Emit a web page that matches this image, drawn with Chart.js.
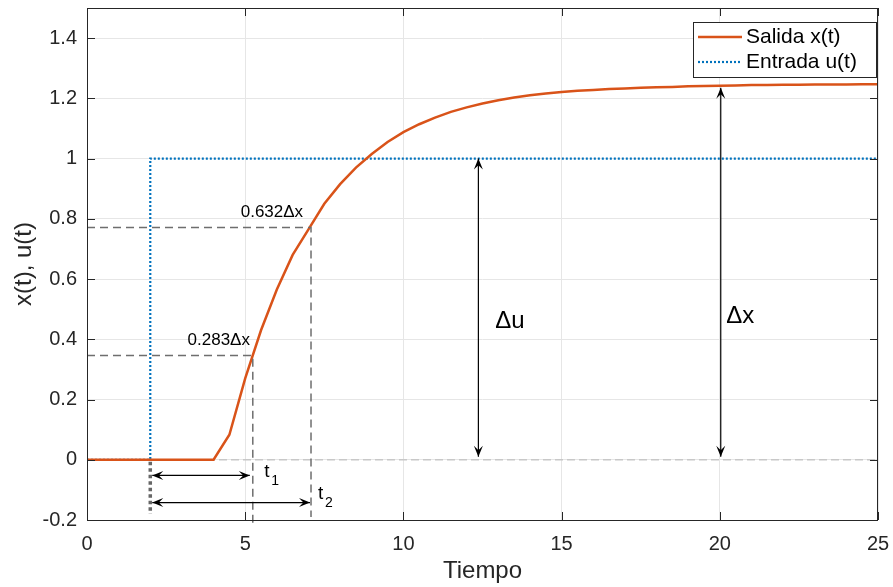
<!DOCTYPE html>
<html>
<head>
<meta charset="utf-8">
<script src="https://cdn.jsdelivr.net/npm/chart.js@4.4.1/dist/chart.umd.min.js"></script>
<style>
  html, body { margin: 0; padding: 0; background: #fff; }
  #wrap { width: 893px; height: 587px; }
</style>
</head>
<body>
<div id="wrap"><canvas id="grafico" width="893" height="587"></canvas></div>
<script>
// datos
const tiempo = [0, 0.5, 1, 1.5, 2, 2.5, 3, 3.5, 4, 4.5, 5, 5.5, 6, 6.5, 7, 7.5, 8, 8.5, 9, 9.5,
  10, 10.5, 11, 11.5, 12, 12.5, 13, 13.5, 14, 14.5, 15, 15.5, 16, 16.5, 17, 17.5, 18, 18.5, 19, 19.5,
  20, 20.5, 21, 21.5, 22, 22.5, 23, 23.5, 24, 24.5, 25];
const salida = [0, 0, 0, 0, 0, 0, 0, 0, 0, 0.083, 0.27, 0.43, 0.565, 0.68, 0.765, 0.85, 0.915, 0.97, 1.015, 1.055,
  1.088, 1.114, 1.136, 1.155, 1.17, 1.183, 1.194, 1.203, 1.21, 1.216, 1.221, 1.225, 1.228, 1.231, 1.233, 1.235, 1.237, 1.238, 1.24, 1.241,
  1.242, 1.243, 1.244, 1.244, 1.245, 1.245, 1.246, 1.246, 1.246, 1.247, 1.247];
const tEntrada = [0, 2, 2, 25];
const entrada = [0, 0, 1, 1];

const xTicks = [0, 5, 10, 15, 20, 25];
const yTicks = [-0.2, 0, 0.2, 0.4, 0.6, 0.8, 1, 1.2, 1.4];

// marcas del metodo de dos puntos
const tPaso = 2;
const tMarcas = [5.24, 7.08];          // t1, t2
const nivelesMarcas = [0.346, 0.771];  // 0.283dx, 0.632dx
const etiquetasMarcas = ['0.283\u0394x', '0.632\u0394x'];
const tDeltaU = 12.37;
const tDeltaX = 20.03;
const finalX = 1.242;

const naranja = '#D95319';
const azul = '#0072BD';
const familia = '"Liberation Sans", Arial, sans-serif';

function flecha(ctx, x, y, ang) {
  // punta tipo matlab
  const L = 11, W = 4.5;
  ctx.save();
  ctx.translate(x, y);
  ctx.rotate(ang);
  ctx.beginPath();
  ctx.moveTo(0, 0);
  ctx.lineTo(-L, -W);
  ctx.lineTo(-L * 0.6, 0);
  ctx.lineTo(-L, W);
  ctx.closePath();
  ctx.fill();
  ctx.restore();
}

function dobleFlecha(ctx, x1, y1, x2, y2) {
  ctx.beginPath();
  ctx.moveTo(x1, y1);
  ctx.lineTo(x2, y2);
  ctx.stroke();
  const a = Math.atan2(y2 - y1, x2 - x1);
  flecha(ctx, x2, y2, a);
  flecha(ctx, x1, y1, a + Math.PI);
}

const anotaciones = {
  id: 'anotaciones',
  beforeDatasetsDraw(chart) {
    const { ctx, scales: { x, y } } = chart;
    ctx.save();
    ctx.strokeStyle = '#c8c8c8';
    ctx.lineWidth = 1.5;
    ctx.setLineDash([8, 4]);
    ctx.beginPath();
    ctx.moveTo(x.getPixelForValue(0), y.getPixelForValue(0));
    ctx.lineTo(x.getPixelForValue(25), y.getPixelForValue(0));
    ctx.stroke();
    ctx.restore();
  },
  afterDatasetsDraw(chart) {
    const { ctx, chartArea: ca, scales: { x, y } } = chart;
    ctx.save();

    // lineas discontinuas de t1 y t2
    ctx.strokeStyle = '#6e6e6e';
    ctx.lineWidth = 1.5;
    ctx.setLineDash([8, 5]);
    tMarcas.forEach((t, i) => {
      const px = x.getPixelForValue(t);
      const py = y.getPixelForValue(nivelesMarcas[i]);
      ctx.beginPath();
      ctx.moveTo(x.getPixelForValue(0), py);
      ctx.lineTo(px, py);
      ctx.lineTo(px, ca.bottom + (i === 0 ? 4 : -3));
      ctx.stroke();
    });

    // punteado grueso bajo el escalon
    ctx.strokeStyle = '#666';
    ctx.lineWidth = 3.5;
    ctx.setLineDash([3.5, 3]);
    ctx.beginPath();
    ctx.moveTo(x.getPixelForValue(tPaso), y.getPixelForValue(0) + 2);
    ctx.lineTo(x.getPixelForValue(tPaso), y.getPixelForValue(-0.2) - 6);
    ctx.stroke();
    ctx.setLineDash([]);

    // flechas
    ctx.strokeStyle = '#000';
    ctx.fillStyle = '#000';
    ctx.lineWidth = 1.2;
    const x0 = x.getPixelForValue(tPaso) + 2;
    dobleFlecha(ctx, x0, y.getPixelForValue(-0.052), x.getPixelForValue(tMarcas[0]) - 3, y.getPixelForValue(-0.052));
    dobleFlecha(ctx, x0, y.getPixelForValue(-0.142), x.getPixelForValue(tMarcas[1]) - 1, y.getPixelForValue(-0.142));
    dobleFlecha(ctx, x.getPixelForValue(tDeltaU), y.getPixelForValue(1), x.getPixelForValue(tDeltaU), y.getPixelForValue(0) - 3);
    dobleFlecha(ctx, x.getPixelForValue(tDeltaX), y.getPixelForValue(finalX) + 2, x.getPixelForValue(tDeltaX), y.getPixelForValue(0) - 3);

    // textos
    ctx.fillStyle = '#000';
    ctx.textBaseline = 'middle';
    ctx.font = '17px ' + familia;
    ctx.textAlign = 'right';
    ctx.fillText(etiquetasMarcas[0], x.getPixelForValue(5.15), y.getPixelForValue(0.398));
    ctx.fillText(etiquetasMarcas[1], x.getPixelForValue(6.83), y.getPixelForValue(0.82));
    ctx.textAlign = 'left';
    ctx.font = '19px ' + familia;
    ctx.fillText('t', x.getPixelForValue(5.6), y.getPixelForValue(-0.04));
    ctx.fillText('t', x.getPixelForValue(7.3), y.getPixelForValue(-0.113));
    ctx.font = '14px ' + familia;
    ctx.fillText('1', x.getPixelForValue(5.6) + 7, y.getPixelForValue(-0.04) + 9);
    ctx.fillText('2', x.getPixelForValue(7.3) + 7, y.getPixelForValue(-0.113) + 9);
    ctx.font = '24px ' + familia;
    ctx.fillText('\u0394u', x.getPixelForValue(12.9), y.getPixelForValue(0.458));
    ctx.fillText('\u0394x', x.getPixelForValue(20.2), y.getPixelForValue(0.475));

    // caja de ejes y marcas hacia dentro
    ctx.strokeStyle = '#262626';
    ctx.lineWidth = 1;
    ctx.strokeRect(ca.left + 0.5, ca.top + 0.5, ca.right - ca.left - 1, ca.bottom - ca.top);
    ctx.beginPath();
    yTicks.forEach(v => {
      const py = Math.round(y.getPixelForValue(v)) + 0.5;
      ctx.moveTo(ca.left, py); ctx.lineTo(ca.left + 8, py);
      ctx.moveTo(ca.right, py); ctx.lineTo(ca.right - 8, py);
    });
    xTicks.forEach(v => {
      const px = Math.round(x.getPixelForValue(v)) + 0.5;
      ctx.moveTo(px, ca.bottom); ctx.lineTo(px, ca.bottom - 8);
      ctx.moveTo(px, ca.top); ctx.lineTo(px, ca.top + 8);
    });
    ctx.stroke();

    // leyenda
    const lx = ca.right - 185, ly = ca.top + 14, lw = 183, lh = 55;
    ctx.fillStyle = '#fff';
    ctx.fillRect(lx, ly, lw, lh);
    ctx.strokeStyle = '#262626';
    ctx.strokeRect(lx + 0.5, ly + 0.5, lw, lh);
    ctx.lineWidth = 2.5;
    ctx.strokeStyle = naranja;
    ctx.beginPath(); ctx.moveTo(lx + 5, ly + 15); ctx.lineTo(lx + 49, ly + 15); ctx.stroke();
    ctx.lineWidth = 2.2;
    ctx.strokeStyle = azul;
    ctx.setLineDash([2, 2]);
    ctx.beginPath(); ctx.moveTo(lx + 5, ly + 40); ctx.lineTo(lx + 49, ly + 40); ctx.stroke();
    ctx.setLineDash([]);
    ctx.fillStyle = '#000';
    ctx.font = '21px ' + familia;
    ctx.textAlign = 'left';
    ctx.fillText('Salida x(t)', lx + 53, ly + 15);
    ctx.fillText('Entrada u(t)', lx + 53, ly + 40);

    ctx.restore();
  }
};

const fuenteTicks = { family: familia, size: 20 };
const fuenteTitulo = { family: familia, size: 24 };

new Chart(document.getElementById('grafico'), {
  type: 'line',
  data: {
    datasets: [
      {
        label: 'Salida x(t)',
        data: tiempo.map((t, i) => ({ x: t, y: salida[i] })),
        borderColor: naranja,
        borderWidth: 2.5,
        pointRadius: 0,
        tension: 0
      },
      {
        label: 'Entrada u(t)',
        data: tEntrada.map((t, i) => ({ x: t, y: entrada[i] })),
        borderColor: azul,
        borderWidth: 2.2,
        borderDash: [2, 2],
        pointRadius: 0,
        tension: 0
      }
    ]
  },
  options: {
    responsive: false,
    animation: false,
    layout: { padding: { left: 0, top: 8, right: 15, bottom: 0 } },
    plugins: { legend: { display: false }, tooltip: { enabled: false } },
    scales: {
      x: {
        type: 'linear',
        min: 0, max: 25,
        afterBuildTicks: s => { s.ticks = xTicks.map(v => ({ value: v })); },
        afterFit: s => { s.height = 67; s.paddingLeft = 0; s.paddingRight = 0; },
        grid: { color: '#e6e6e6', drawTicks: false },
        border: { display: false },
        ticks: { font: fuenteTicks, color: '#262626', padding: 12, maxRotation: 0 },
        title: { display: true, text: 'Tiempo', font: fuenteTitulo, color: '#262626', padding: { top: 0, bottom: 1 } }
      },
      y: {
        min: -0.2, max: 1.5,
        afterBuildTicks: s => { s.ticks = yTicks.map(v => ({ value: v })); },
        afterFit: s => { s.width = 87; s.paddingTop = 0; s.paddingBottom = 0; },
        grid: { color: '#e6e6e6', drawTicks: false },
        border: { display: false },
        ticks: { font: fuenteTicks, color: '#262626', padding: 10, callback: v => String(Math.round(v * 10) / 10) },
        title: { display: true, text: 'x(t), u(t)', font: fuenteTitulo, color: '#262626', padding: { top: 10, bottom: 4 } }
      }
    }
  },
  plugins: [anotaciones]
});
</script>
</body>
</html>
